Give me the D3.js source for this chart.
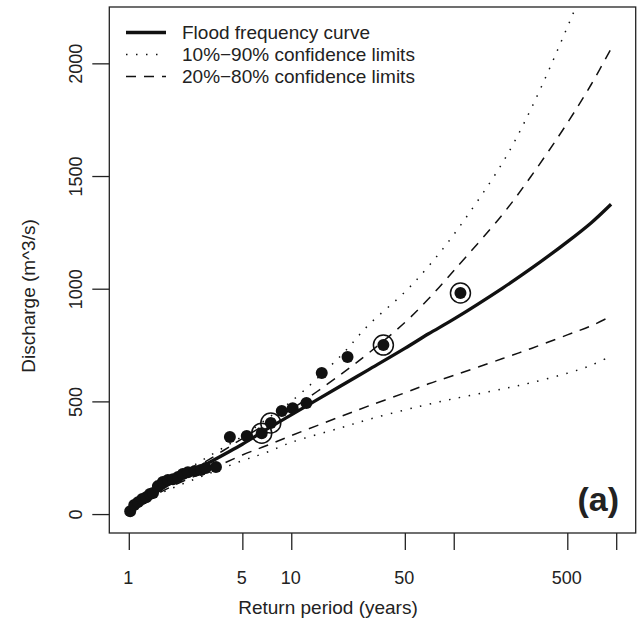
<!DOCTYPE html>
<html>
<head>
<meta charset="utf-8">
<script src="https://cdn.jsdelivr.net/npm/d3@7/dist/d3.min.js"></script>
<style>
  html, body { margin: 0; padding: 0; background: #fff; }
  svg text { font-family: "Liberation Sans", Arial, Helvetica, sans-serif; fill: #222; }
</style>
</head>
<body>
<svg id="chart" width="642" height="625"></svg>
<script>
// ---------- data ----------
const curveT      = [1.01, 1.5, 2, 3, 5, 7, 10, 20, 30, 50, 70, 100, 200, 300, 500, 700, 930];
const fitQ        = [15, 100, 155, 222, 310, 375, 440, 567, 641, 735, 800, 865, 1003, 1090, 1208, 1292, 1375];
const upper80Q    = [16, 105, 162, 235, 335, 400, 465, 618, 715, 850, 955, 1080, 1330, 1500, 1735, 1905, 2065];
const lower20Q    = [12, 90, 135, 190, 262, 303, 348, 432, 480, 538, 578, 615, 690, 735, 795, 835, 878];
const upper90Q    = [17, 110, 170, 250, 345, 420, 500, 700, 840, 985, 1100, 1240, 1560, 1800, 2160, 2420, 2700];
const lower10Q    = [11, 85, 125, 175, 237, 273, 318, 382, 420, 462, 487, 512, 555, 583, 625, 660, 702];

const obsT = [1.02, 1.08, 1.14, 1.21, 1.28, 1.35, 1.41, 1.51, 1.62, 1.74, 1.87, 2.01, 2.15, 2.31, 2.55, 2.78, 2.98, 3.44,
              4.19, 5.32, 6.58, 7.48, 8.74, 10.2, 12.4, 15.4, 22.2, 36.9, 110];
const obsQ = [13, 40, 53, 67, 75, 89, 93, 124, 142, 151, 155, 164, 178, 186, 191, 195, 204, 209,
              342, 346, 359, 404, 457, 470, 493, 626, 697, 750, 981];
const historicT = [6.58, 7.48, 36.9, 110];
const historicQ = [359, 404, 750, 981];

const xTicks = [1, 5, 10, 50, 100, 500, 1000];
const xTickLabels = ["1", "5", "10", "50", "", "500", ""];
const yTicks = [0, 500, 1000, 1500, 2000];

const legendLabels = ["Flood frequency curve", "10%\u221290% confidence limits", "20%\u221280% confidence limits"];
const panelLabel = "(a)";

// ---------- layout ----------
const L = 109.3, R = 635.7, T = 7, B = 533;
const svg = d3.select("#chart");

const logMin = 0, logMax = 3, pad = (logMax - logMin) * 0.04;
const x = d3.scaleLog().domain([Math.pow(10, logMin - pad), Math.pow(10, logMax + pad)]).range([L, R]);
const y = d3.scaleLinear().domain([-84, 2250]).range([B, T]);

svg.append("defs").append("clipPath").attr("id", "clip")
  .append("rect").attr("x", L).attr("y", T).attr("width", R - L).attr("height", B - T);

// axes
const xAxis = d3.axisBottom(x).tickValues(xTicks).tickSize(17).tickFormat((d, i) => xTickLabels[i]);
const gx = svg.append("g").attr("transform", `translate(0,${B})`).call(xAxis);
gx.select(".domain").remove();
gx.selectAll(".tick line").attr("stroke", "#222").attr("stroke-width", 1.3);
gx.selectAll(".tick text").attr("font-size", 18).attr("y", 0).attr("dy", 0)
  .attr("transform", "translate(-1,51)").attr("fill", "#222");

const yAxis = d3.axisLeft(y).tickValues(yTicks).tickSize(17).tickFormat(d3.format("d"));
const gy = svg.append("g").attr("transform", `translate(${L},0)`).call(yAxis);
gy.select(".domain").remove();
gy.selectAll(".tick line").attr("stroke", "#222").attr("stroke-width", 1.3);
gy.selectAll(".tick text").attr("font-size", 18).attr("x", 0).attr("dy", 0)
  .attr("text-anchor", "middle")
  .attr("transform", "translate(-27,0) rotate(-90)").attr("fill", "#222");

// box
svg.append("rect").attr("x", L).attr("y", T).attr("width", R - L).attr("height", B - T)
  .attr("fill", "none").attr("stroke", "#222").attr("stroke-width", 1.3);

// axis titles
svg.append("text").attr("x", 328).attr("y", 614).attr("text-anchor", "middle")
  .attr("font-size", 19).text("Return period (years)");
svg.append("text").attr("transform", `translate(35,296) rotate(-90)`).attr("text-anchor", "middle")
  .attr("font-size", 19).text("Discharge (m^3/s)");

// curves
const plot = svg.append("g").attr("clip-path", "url(#clip)");
const line = d3.line().x(d => x(d[0])).y(d => y(d[1])).curve(d3.curveCatmullRom.alpha(0.5));
function drawCurve(vals, width, dash) {
  plot.append("path").datum(curveT.map((t, i) => [t, vals[i]]))
    .attr("d", line).attr("fill", "none").attr("stroke", "#111")
    .attr("stroke-width", width).attr("stroke-dasharray", dash);
}
drawCurve(upper90Q, 1.5, "1.5,8.5");
drawCurve(lower10Q, 1.5, "1.5,8.5");
drawCurve(upper80Q, 1.5, "10,8");
drawCurve(lower20Q, 1.5, "10,8");
drawCurve(fitQ, 3.3, null);

// observed points
plot.selectAll("circle.obs").data(obsT.map((t, i) => [t, obsQ[i]])).enter()
  .append("circle").attr("class", "obs")
  .attr("cx", d => x(d[0])).attr("cy", d => y(d[1])).attr("r", 6).attr("fill", "#111");
plot.selectAll("circle.hist").data(historicT.map((t, i) => [t, historicQ[i]])).enter()
  .append("circle").attr("class", "hist")
  .attr("cx", d => x(d[0])).attr("cy", d => y(d[1])).attr("r", 10)
  .attr("fill", "none").attr("stroke", "#111").attr("stroke-width", 1.5);

// legend
const legY = [32.5, 54.5, 76.5];
const legStyles = [[3.3, null], [1.5, "1.5,8.5"], [1.5, "10,8"]];
legendLabels.forEach((lab, i) => {
  svg.append("line").attr("x1", 126).attr("x2", 166).attr("y1", legY[i]).attr("y2", legY[i])
    .attr("stroke", "#111").attr("stroke-width", legStyles[i][0]).attr("stroke-dasharray", legStyles[i][1]);
  svg.append("text").attr("x", 182).attr("y", legY[i]).attr("dy", "0.35em")
    .attr("font-size", 19).text(lab);
});

// panel label
svg.append("text").attr("x", 619).attr("y", 511).attr("text-anchor", "end")
  .attr("font-size", 34).attr("font-weight", "bold").text(panelLabel);
</script>
</body>
</html>
